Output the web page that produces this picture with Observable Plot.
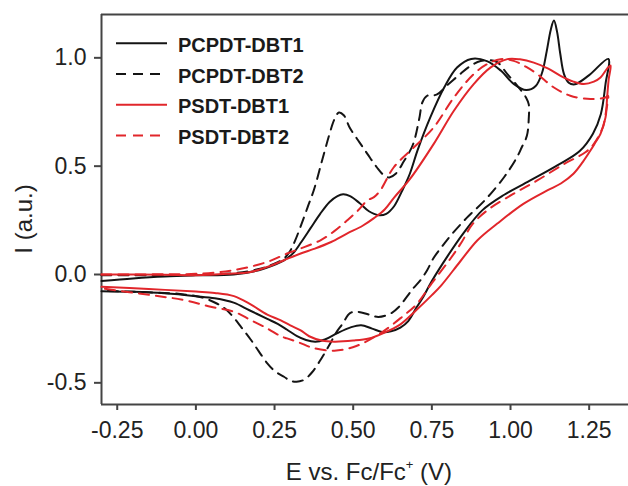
<!DOCTYPE html>
<html>
<head>
<meta charset="utf-8">
<script src="https://cdn.jsdelivr.net/npm/d3@7"></script>
<script src="https://cdn.jsdelivr.net/npm/@observablehq/plot@0.6"></script>
<style>
  html, body { margin: 0; padding: 0; background: #fff; }
  #chart { width: 628px; height: 486px; }
</style>
</head>
<body>
<div id="chart"></div>
<script>
// ---------- data ----------
const xDomain = [-0.3, 1.375];
const yDomain = [-0.6, 1.2];
const xTicks = [-0.25, 0.0, 0.25, 0.5, 0.75, 1.0, 1.25];
const yTicks = [-0.5, 0.0, 0.5, 1.0];
const seriesNames = ["PCPDT-DBT1", "PCPDT-DBT2", "PSDT-DBT1", "PSDT-DBT2"];
const xLabel = "E vs. Fc/Fc";
const xLabelSup = "+";
const xLabelUnit = " (V)";
const yLabel = "I (a.u.)";

// [E (V), I (a.u.)] in scan order (forward then reverse)
const pcpdtDbt1 = [
  [-0.30,-0.030],[-0.20,-0.018],[-0.10,-0.009],[0.00,-0.004],[0.12,0.000],[0.20,0.020],
  [0.25,0.045],[0.28,0.065],[0.31,0.100],[0.335,0.150],[0.365,0.215],[0.395,0.280],
  [0.425,0.335],[0.45,0.362],[0.468,0.370],[0.49,0.362],[0.52,0.330],[0.55,0.292],
  [0.58,0.274],[0.605,0.280],[0.63,0.315],[0.655,0.385],[0.68,0.465],[0.705,0.575],
  [0.745,0.725],[0.79,0.865],[0.83,0.955],[0.875,0.995],[0.925,0.985],[0.97,0.940],
  [1.01,0.880],[1.05,0.851],[1.08,0.870],[1.10,0.930],[1.115,1.030],[1.128,1.130],
  [1.138,1.172],[1.148,1.120],[1.158,1.020],[1.17,0.925],[1.185,0.885],[1.205,0.878],
  [1.25,0.920],[1.311,0.995],
  [1.302,0.880],[1.287,0.740],[1.262,0.650],[1.22,0.570],[1.15,0.505],[1.06,0.432],
  [0.98,0.368],[0.91,0.296],[0.85,0.190],[0.80,0.085],[0.75,-0.030],[0.72,-0.110],
  [0.70,-0.155],[0.675,-0.215],[0.65,-0.245],[0.62,-0.262],[0.595,-0.266],[0.56,-0.250],
  [0.525,-0.234],[0.49,-0.245],[0.45,-0.270],[0.41,-0.300],[0.38,-0.310],[0.35,-0.302],
  [0.32,-0.283],[0.29,-0.255],[0.26,-0.228],[0.227,-0.205],[0.17,-0.165],[0.12,-0.130],
  [0.06,-0.110],[0.00,-0.100],[-0.10,-0.087],[-0.20,-0.080],[-0.30,-0.077]
];

const pcpdtDbt2 = [
  [-0.30,-0.004],[-0.10,-0.003],[0.00,-0.002],[0.12,0.006],[0.20,0.025],[0.25,0.050],
  [0.28,0.074],[0.30,0.110],[0.315,0.155],[0.335,0.230],[0.355,0.310],[0.375,0.390],
  [0.40,0.520],[0.425,0.650],[0.44,0.715],[0.455,0.748],[0.47,0.735],[0.49,0.675],
  [0.52,0.610],[0.545,0.557],[0.575,0.495],[0.60,0.455],[0.615,0.448],[0.635,0.465],
  [0.66,0.520],[0.69,0.600],[0.71,0.720],[0.72,0.795],[0.735,0.825],[0.765,0.830],
  [0.80,0.875],[0.84,0.925],[0.87,0.960],[0.905,0.985],[0.955,0.982],[0.99,0.925],
  [1.025,0.865],[1.05,0.815],[1.058,0.785],
  [1.058,0.720],[1.052,0.640],[1.035,0.585],[1.02,0.540],[0.98,0.450],[0.92,0.345],
  [0.86,0.260],[0.81,0.180],[0.78,0.125],[0.755,0.075],[0.735,0.020],[0.714,-0.026],
  [0.69,-0.065],[0.672,-0.100],[0.645,-0.150],[0.619,-0.180],[0.58,-0.196],[0.55,-0.185],
  [0.513,-0.172],[0.49,-0.178],[0.465,-0.230],[0.445,-0.270],[0.43,-0.310],[0.40,-0.385],
  [0.37,-0.450],[0.345,-0.485],[0.32,-0.495],[0.30,-0.490],[0.28,-0.472],[0.25,-0.445],
  [0.227,-0.410],[0.20,-0.355],[0.174,-0.300],[0.145,-0.245],[0.121,-0.200],[0.095,-0.160],
  [0.068,-0.135],[0.02,-0.106],[-0.05,-0.090],[-0.15,-0.082],[-0.30,-0.076]
];

const psdtDbt1 = [
  [-0.30,0.000],[-0.10,-0.001],[0.00,-0.003],[0.10,0.003],[0.174,0.012],[0.227,0.035],
  [0.28,0.066],[0.333,0.097],[0.375,0.118],[0.43,0.150],[0.48,0.189],[0.53,0.225],
  [0.566,0.260],[0.60,0.300],[0.63,0.355],[0.68,0.440],[0.756,0.603],[0.82,0.756],
  [0.883,0.879],[0.936,0.955],[0.99,0.994],[1.03,0.993],[1.074,0.978],[1.12,0.950],
  [1.159,0.917],[1.20,0.890],[1.233,0.879],[1.265,0.890],[1.286,0.909],[1.307,0.950],
  [1.318,0.965],
  [1.312,0.900],[1.307,0.817],[1.302,0.725],[1.286,0.649],[1.27,0.610],[1.254,0.572],
  [1.23,0.520],[1.20,0.465],[1.16,0.420],[1.117,0.388],[1.042,0.327],[0.958,0.235],
  [0.895,0.158],[0.84,0.060],[0.78,-0.050],[0.75,-0.095],[0.70,-0.165],[0.65,-0.230],
  [0.60,-0.268],[0.55,-0.295],[0.50,-0.305],[0.44,-0.310],[0.40,-0.305],[0.36,-0.285],
  [0.333,-0.258],[0.30,-0.235],[0.27,-0.212],[0.227,-0.185],[0.174,-0.138],[0.121,-0.100],
  [0.06,-0.085],[0.00,-0.079],[-0.15,-0.067],[-0.30,-0.057]
];

const psdtDbt2 = [
  [-0.30,0.000],[-0.10,0.001],[0.00,0.003],[0.121,0.020],[0.227,0.058],[0.29,0.097],
  [0.333,0.120],[0.396,0.158],[0.44,0.200],[0.481,0.250],[0.515,0.295],[0.545,0.342],
  [0.566,0.357],[0.587,0.390],[0.629,0.495],[0.693,0.587],[0.756,0.679],[0.82,0.817],
  [0.883,0.925],[0.926,0.971],[0.968,0.994],[1.01,0.986],[1.05,0.958],[1.085,0.925],
  [1.138,0.863],[1.19,0.825],[1.254,0.810],[1.302,0.817],[1.31,0.825],
  [1.304,0.756],[1.293,0.679],[1.265,0.603],[1.238,0.564],[1.17,0.510],[1.085,0.434],
  [1.01,0.373],[0.926,0.296],[0.878,0.230],[0.845,0.150],[0.81,0.075],[0.75,-0.040],
  [0.70,-0.140],[0.66,-0.190],[0.59,-0.268],[0.51,-0.330],[0.44,-0.352],[0.37,-0.338],
  [0.33,-0.315],[0.29,-0.295],[0.27,-0.285],[0.227,-0.249],[0.174,-0.210],[0.121,-0.172],
  [0.047,-0.149],[-0.038,-0.118],[-0.144,-0.095],[-0.30,-0.064]
];

const seriesData = [pcpdtDbt1, pcpdtDbt2, psdtDbt1, psdtDbt2];

// ---------- styles ----------
const black = "#141414";
const red = "#e1262b";
const seriesStyle = [
  {stroke: black, dash: null},
  {stroke: black, dash: "10,7"},
  {stroke: red, dash: null},
  {stroke: red, dash: "10,7"}
];
const axisColor = "#444";
const font = "'Liberation Sans', Arial, Helvetica, sans-serif";

const rowsOf = (pts, name) => pts.map(([E, I]) => ({E, I, series: name}));

const lineMarks = seriesData.map((pts, i) =>
  Plot.line(rowsOf(pts, seriesNames[i]), {
    x: "E", y: "I",
    stroke: seriesStyle[i].stroke,
    strokeWidth: 2,
    strokeDasharray: seriesStyle[i].dash,
    curve: "catmull-rom"
  })
);

const chart = Plot.plot({
  width: 628,
  height: 486,
  marginLeft: 101,
  marginRight: 0,
  marginTop: 14,
  marginBottom: 82,
  style: {fontFamily: font, fontSize: "23px", color: "#222", background: "#fff"},
  x: {domain: xDomain, ticks: xTicks, tickFormat: d => d.toFixed(2), tickSize: 6, tickPadding: 11, label: null},
  y: {domain: yDomain, ticks: yTicks, tickFormat: d => d.toFixed(1), tickSize: 7, tickPadding: 8, label: null},
  marks: [
    Plot.ruleX([xDomain[0]], {stroke: axisColor, strokeWidth: 2}),
    Plot.ruleY([yDomain[1], yDomain[0]], {stroke: axisColor, strokeWidth: 2}),
    lineMarks[0], lineMarks[1], lineMarks[2], lineMarks[3]
  ]
});

document.getElementById("chart").appendChild(chart);

const svg = d3.select(chart);
svg.selectAll('g[aria-label="x-axis tick"] path, g[aria-label="y-axis tick"] path')
  .attr("stroke", axisColor).attr("stroke-width", 2);

// legend
const legX1 = 116, legX2 = 167, legTextX = 178, legBase0 = 51.7, legStep = 30.8;
const leg = svg.append("g").attr("text-anchor", "start");
seriesNames.forEach((name, i) => {
  const base = legBase0 + i * legStep;
  leg.append("line")
    .attr("x1", legX1).attr("x2", legX2)
    .attr("y1", base - 8.5).attr("y2", base - 8.5)
    .attr("stroke", seriesStyle[i].stroke).attr("stroke-width", 2)
    .attr("stroke-dasharray", seriesStyle[i].dash || null);
  leg.append("text")
    .attr("x", legTextX).attr("y", base)
    .attr("text-anchor", "start")
    .attr("font-family", font).attr("font-size", 20).attr("font-weight", "bold")
    .attr("fill", "#1a1a1a")
    .text(name);
});

// axis labels
const xl = svg.append("text")
  .attr("x", 369).attr("y", 480)
  .attr("text-anchor", "middle")
  .attr("font-family", font).attr("font-size", 24).attr("fill", "#222");
xl.append("tspan").text(xLabel);
xl.append("tspan").attr("font-size", 13).attr("dy", -11).text(xLabelSup);
xl.append("tspan").attr("dy", 11).text(xLabelUnit);

svg.append("text")
  .attr("transform", "translate(32,219) rotate(-90)")
  .attr("text-anchor", "middle")
  .attr("font-family", font).attr("font-size", 24).attr("fill", "#222")
  .text(yLabel);
</script>
</body>
</html>
